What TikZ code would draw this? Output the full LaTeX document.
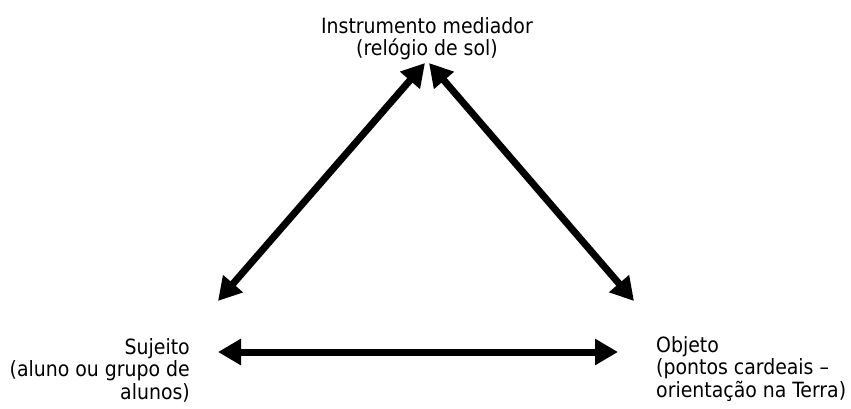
\documentclass[tikz,border=0pt]{standalone}
\usepackage{fontspec}
\setmainfont{DejaVu Sans Condensed}
\usetikzlibrary{arrows.meta}
\begin{document}
\begin{tikzpicture}[x=1pt,y=1pt,
  lbl/.style={inner sep=0pt, font=\fontsize{21}{22.5}\selectfont},
  dbl/.style={line width=7pt, {Triangle[length=23pt,width=25pt]}-{Triangle[length=23pt,width=25pt]}}]
\useasboundingbox (0,0) rectangle (851,408);
% labels
\node[lbl, align=center, anchor=north] (inst) at (427,391) {Instrumento mediador\\(relógio de sol)};
\node[lbl, align=right, anchor=north east] (suj) at (190,70) {Sujeito\\(aluno ou grupo de\\alunos)};
\node[lbl, align=left, anchor=north west] (obj) at (656,72) {Objeto\\(pontos cardeais –\\orientação na Terra)};
% arrow end points
\coordinate (tl) at (425,345);
\coordinate (tr) at (429,345);
\coordinate (bl) at (218,107);
\coordinate (br) at (634,107);
\coordinate (hl) at (218,56);
\coordinate (hr) at (618,56);
\draw[dbl] (bl) -- (tl);
\draw[dbl] (br) -- (tr);
\draw[dbl] (hl) -- (hr);
\end{tikzpicture}
\end{document}
